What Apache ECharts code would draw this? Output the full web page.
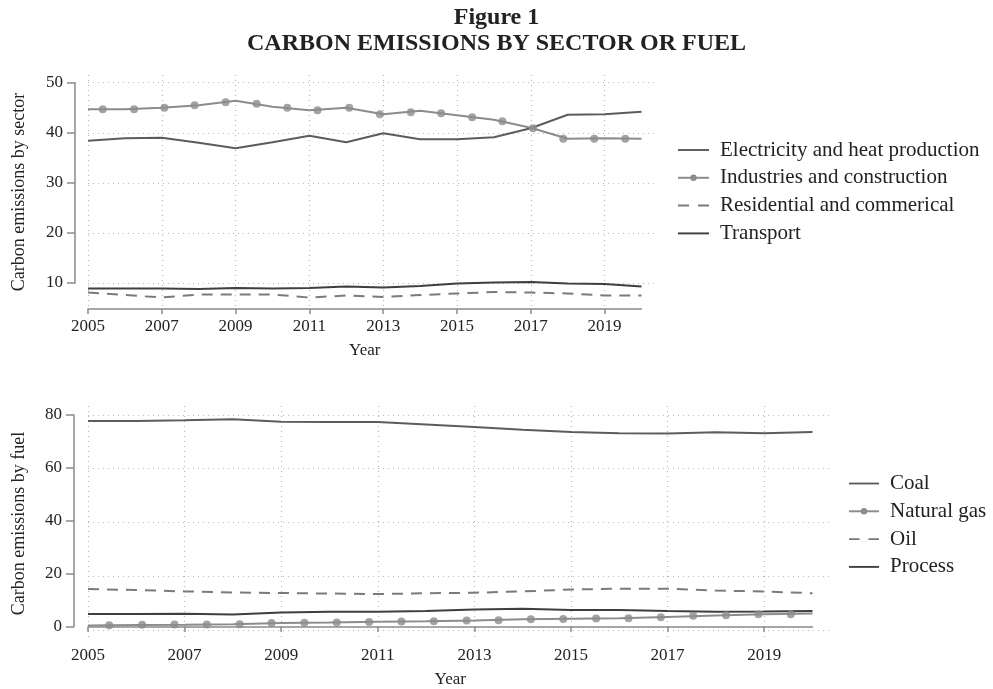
<!DOCTYPE html>
<html>
<head>
<meta charset="utf-8">
<script src="https://cdn.jsdelivr.net/npm/echarts@6/dist/echarts.min.js"></script>
<style>
  html, body { margin: 0; padding: 0; background: #fff; }
  #main { width: 993px; height: 689px; }
</style>
</head>
<body>
<div id="main"></div>
<script>
// data
var years = [2005, 2006, 2007, 2008, 2009, 2010, 2011, 2012, 2013, 2014, 2015, 2016, 2017, 2018, 2019, 2020];
var yearTicks = [2005, 2007, 2009, 2011, 2013, 2015, 2017, 2019];

var sectorNames = ['Electricity and heat production', 'Industries and construction', 'Residential and commerical', 'Transport'];
var electricity = [38.4, 38.9, 39.0, 38.0, 36.9, 38.1, 39.4, 38.1, 39.9, 38.7, 38.7, 39.1, 40.9, 43.6, 43.7, 44.2];
var industries = [44.7, 44.7, 45.0, 45.5, 46.4, 45.2, 44.5, 45.0, 43.7, 44.4, 43.5, 42.6, 41.0, 38.8, 38.9, 38.8];
var residential = [8.1, 7.6, 7.1, 7.7, 7.7, 7.7, 7.1, 7.5, 7.2, 7.6, 7.9, 8.2, 8.1, 7.9, 7.5, 7.5];
var transport = [8.9, 8.9, 8.9, 8.8, 9.0, 8.9, 9.0, 9.3, 9.1, 9.4, 9.9, 10.1, 10.2, 9.9, 9.8, 9.3];
// marker positions of the industries line (they sit between years in the figure)
var industryMarkYears = [2005.40, 2006.25, 2007.07, 2007.89, 2008.73, 2009.57, 2010.40, 2011.22, 2012.08, 2012.91, 2013.75, 2014.57, 2015.41, 2016.23, 2017.06, 2017.88, 2018.72, 2019.56];
var industryMarkValues = [44.7, 44.7, 45.0, 45.5, 46.1, 45.8, 45.0, 44.5, 45.0, 43.7, 44.1, 43.9, 43.1, 42.3, 40.9, 38.8, 38.8, 38.8];
var sectorTicks = [10, 20, 30, 40, 50];

var fuelNames = ['Coal', 'Natural gas', 'Oil', 'Process'];
var coal = [77.8, 77.8, 78.0, 78.4, 77.5, 77.4, 77.4, 76.5, 75.5, 74.5, 73.7, 73.2, 73.1, 73.6, 73.2, 73.7];
var gas = [1.6, 1.8, 1.9, 2.1, 2.5, 2.7, 3.0, 3.2, 3.5, 3.9, 4.1, 4.3, 4.8, 5.3, 5.8, 6.1];
var oil = [15.2, 14.8, 14.3, 13.9, 13.7, 13.5, 13.3, 13.6, 13.8, 14.3, 15.0, 15.3, 15.3, 14.6, 14.3, 13.6];
var process = [5.9, 5.9, 6.0, 5.7, 6.4, 6.7, 6.7, 7.0, 7.6, 7.8, 7.4, 7.4, 7.0, 6.7, 6.8, 7.0];
var gasMarkYears = [2005.44, 2006.12, 2006.79, 2007.46, 2008.14, 2008.80, 2009.48, 2010.15, 2010.82, 2011.49, 2012.16, 2012.84, 2013.50, 2014.17, 2014.84, 2015.52, 2016.19, 2016.86, 2017.53, 2018.21, 2018.88, 2019.55];
var gasMarkValues = [1.7, 1.9, 2.0, 2.0, 2.1, 2.5, 2.6, 2.7, 2.9, 3.1, 3.2, 3.5, 3.6, 3.9, 4.0, 4.2, 4.3, 4.7, 5.2, 5.4, 5.8, 5.8];
var fuelTicks = [0, 20, 40, 60, 80];

var FONT = '"Liberation Serif", "DejaVu Serif", serif';
var cDark = '#3f3f3f', cMid = '#5c5c5c', cLight = '#8c8c8c', cDash = '#7a7a7a';

// legend icons (the line series' default icon would add a dot)
var ICON_SOLID = 'path://M0,0H32V2H0Z';
var ICON_DASH = 'path://M0,0H11V2H0ZM20,0H31V2H20Z';

function pairs(xs, ys) {
    return xs.map(function (x, i) { return [x, ys[i]]; });
}

// one panel = a plot region (grid lines + data) and a stata-like axis frame
// p: pixel layout of the panel
function panel(p, idx) {
    var xPerPx = (p.x1v - p.x0v) / (p.x1 - p.x0);
    var yPerPx = (p.y1v - p.y0v) / (p.y0 - p.y1);
    var plotXMax = p.x0v + (p.plotRight - p.x0) * xPerPx;
    var plotYMin = p.y0v - (p.plotBottom - p.y0) * yPerPx;
    var plotYMax = p.y1v + (p.y1 - p.plotTop) * yPerPx;
    var dotted = { show: true, lineStyle: { color: '#b8b8b8', type: [1, 4], width: 1.2 } };
    var axisGray = { color: '#8a8a8a', width: 1.5 };
    return {
        grids: [
            { left: p.x0, top: p.plotTop, width: p.plotRight - p.x0, height: p.plotBottom - p.plotTop },
            { left: p.x0, top: p.y1, width: p.x1 - p.x0, height: p.y0 - p.y1 }
        ],
        xAxes: [
            { gridIndex: idx * 2, type: 'value', min: p.x0v, max: plotXMax,
              axisLine: { show: false }, axisTick: { show: false, customValues: p.xTicks },
              axisLabel: { show: false }, splitLine: dotted },
            { gridIndex: idx * 2 + 1, type: 'value', min: p.x0v, max: p.x1v, offset: p.plotBottom - p.y0,
              axisLine: { lineStyle: axisGray },
              axisTick: { length: 5, customValues: p.xTicks, lineStyle: axisGray },
              axisLabel: { customValues: p.xTicks, fontFamily: FONT, fontSize: 17, color: '#222', margin: 9,
                           formatter: function (v) { return String(v); } },
              splitLine: { show: false },
              name: 'Year', nameLocation: 'middle', nameGap: 33,
              nameTextStyle: { fontFamily: FONT, fontSize: 17, color: '#222' } }
        ],
        yAxes: [
            { gridIndex: idx * 2, type: 'value', min: plotYMin, max: plotYMax,
              axisLine: { show: false }, axisTick: { show: false, customValues: p.yTicks },
              axisLabel: { show: false }, splitLine: dotted,
              name: p.yName, nameLocation: 'middle', nameGap: p.x0 - 28,
              nameTextStyle: { fontFamily: FONT, fontSize: 18, color: '#222' } },
            { gridIndex: idx * 2 + 1, type: 'value', min: p.y0v, max: p.y1v, offset: p.x0 - p.axisX,
              axisLine: { show: true, lineStyle: axisGray },
              axisTick: { show: true, length: 8, customValues: p.yTicks, lineStyle: axisGray },
              axisLabel: { customValues: p.yTicks, fontFamily: FONT, fontSize: 17, color: '#222', margin: 12 },
              splitLine: { show: false } }
        ]
    };
}

var sectorPanel = panel({ x0: 88, x1: 641.5, x0v: 2005, x1v: 2020, plotRight: 654,
                  y0: 283, y1: 82.7, y0v: 10, y1v: 50, plotTop: 75, plotBottom: 309,
                  axisX: 75, xTicks: yearTicks, yTicks: sectorTicks,
                  yName: 'Carbon emissions by sector' }, 0);
var fuelPanel = panel({ x0: 88, x1: 812.5, x0v: 2005, x1v: 2020, plotRight: 830,
                  y0: 629.8, y1: 415, y0v: 0, y1v: 80, plotTop: 406, plotBottom: 641,
                  axisX: 74, xTicks: yearTicks, yTicks: fuelTicks,
                  yName: 'Carbon emissions by fuel' }, 1);

function line(name, data, color, xi, opts) {
    var s = {
        name: name, type: 'line', xAxisIndex: xi, yAxisIndex: xi,
        data: data, symbol: 'none', showSymbol: false, smooth: false,
        lineStyle: { color: color, width: 2 }, itemStyle: { color: color },
        emphasis: { disabled: true }, silent: true, z: 3
    };
    for (var k in opts) s[k] = opts[k];
    return s;
}

function marks(name, data, color, xi) {
    return {
        name: name, type: 'scatter', xAxisIndex: xi, yAxisIndex: xi, data: data,
        symbol: 'circle', symbolSize: 8, itemStyle: { color: color },
        emphasis: { disabled: true }, silent: true, z: 4
    };
}

function legendItems(names) {
    var icons = [ICON_SOLID, 'inherit', ICON_DASH, ICON_SOLID];
    return names.map(function (n, i) { return { name: n, icon: icons[i] }; });
}

var legendText = { fontFamily: FONT, fontSize: 21, lineHeight: 21, color: '#222', padding: [0, 0, 0, 6] };

var option = {
    backgroundColor: '#fff',
    animation: false,
    title: {
        text: 'Figure 1',
        subtext: 'CARBON EMISSIONS BY SECTOR OR FUEL',
        left: 'center', top: 1, itemGap: 2,
        textStyle: { fontFamily: FONT, fontWeight: 'bold', fontSize: 24, color: '#222' },
        subtextStyle: { fontFamily: FONT, fontWeight: 'bold', fontSize: 24, color: '#222' }
    },
    legend: [
        { data: legendItems(sectorNames), orient: 'vertical', left: 672, top: 134.5, itemWidth: 31, itemHeight: 8,
          itemGap: 6.8, textStyle: legendText, selectedMode: false },
        { data: legendItems(fuelNames), orient: 'vertical', left: 843, top: 468, itemWidth: 30, itemHeight: 8,
          itemGap: 6.8, textStyle: legendText, selectedMode: false }
    ],
    grid: sectorPanel.grids.concat(fuelPanel.grids),
    xAxis: sectorPanel.xAxes.concat(fuelPanel.xAxes),
    yAxis: sectorPanel.yAxes.concat(fuelPanel.yAxes),
    series: [
        line(sectorNames[0], pairs(years, electricity), cMid, 0),
        line(sectorNames[1], pairs(years, industries), cLight, 0, { symbol: 'circle', symbolSize: 6 }),
        marks('industries markers', pairs(industryMarkYears, industryMarkValues), cLight, 0),
        line(sectorNames[2], pairs(years, residential), cDash, 0, { lineStyle: { color: cDash, width: 2, type: [11, 8] } }),
        line(sectorNames[3], pairs(years, transport), cDark, 0),

        line(fuelNames[0], pairs(years, coal), cMid, 2),
        line(fuelNames[1], pairs(years, gas), cLight, 2, { symbol: 'circle', symbolSize: 6 }),
        marks('gas markers', pairs(gasMarkYears, gasMarkValues), cLight, 2),
        line(fuelNames[2], pairs(years, oil), cDash, 2, { lineStyle: { color: cDash, width: 2, type: [11, 8] } }),
        line(fuelNames[3], pairs(years, process), cDark, 2)
    ]
};

var myChart = echarts.init(document.getElementById('main'));
myChart.setOption(option);
</script>
</body>
</html>
